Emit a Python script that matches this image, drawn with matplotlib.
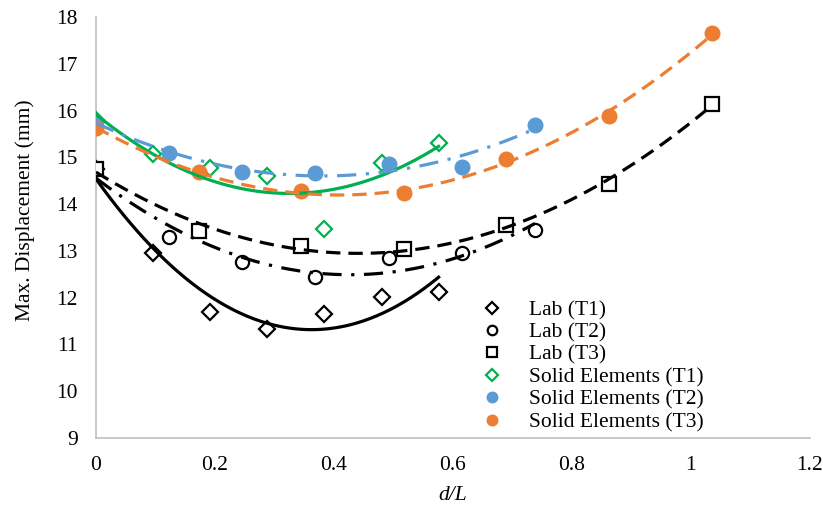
import numpy as np
import matplotlib
matplotlib.use("Agg")
import matplotlib.pyplot as plt

plt.rcParams['font.family'] = ['Liberation Serif', 'DejaVu Serif']

# Data (d/L vs max displacement in mm)
x_t1 = [0.0, 0.096, 0.192, 0.288, 0.384, 0.48, 0.576]
x_t2 = [0.0, 0.123, 0.246, 0.369, 0.492, 0.615, 0.738]
x_t3 = [0.0, 0.1725, 0.345, 0.5175, 0.69, 0.8625, 1.035]

lab_t1 = [14.75, 12.95, 11.69, 11.33, 11.65, 12.01, 12.12]
lab_t2 = [14.75, 13.30, 12.76, 12.45, 12.84, 12.95, 13.45]
lab_t3 = [14.75, 13.43, 13.10, 13.05, 13.55, 14.42, 16.15]
se_t1 = [15.80, 15.07, 14.77, 14.60, 13.47, 14.87, 15.30]
se_t2 = [15.75, 15.10, 14.68, 14.67, 14.85, 14.80, 15.70]
se_t3 = [15.62, 14.69, 14.28, 14.23, 14.97, 15.89, 17.66]

labels = ['Lab (T1)', 'Lab (T2)', 'Lab (T3)',
          'Solid Elements (T1)', 'Solid Elements (T2)', 'Solid Elements (T3)']
xticks = [0, 0.2, 0.4, 0.6, 0.8, 1.0, 1.2]
xticklabels = ['0', '0.2', '0.4', '0.6', '0.8', '1', '1.2']
yticks = [9, 10, 11, 12, 13, 14, 15, 16, 17, 18]

GREEN = '#00B050'
BLUE = '#5B9BD5'
ORANGE = '#ED7D31'
FS = 15.5

fig = plt.figure(figsize=(8.23, 5.08), dpi=100)
ax = fig.add_axes([0.1166, 0.1378, 0.8674, 0.8287])

series = [
    (x_t1, lab_t1, dict(marker='D', ms=8, mfc='white', mec='black', mew=1.6, ls='none')),
    (x_t2, lab_t2, dict(marker='o', ms=9.5, mfc='white', mec='black', mew=1.6, ls='none')),
    (x_t3, lab_t3, dict(marker='s', ms=9.5, mfc='white', mec='black', mew=1.6, ls='none')),
    (x_t1, se_t1, dict(marker='D', ms=8, mfc='white', mec=GREEN, mew=1.6, ls='none')),
    (x_t2, se_t2, dict(marker='o', ms=10.5, mfc=BLUE, mec=BLUE, mew=1, ls='none')),
    (x_t3, se_t3, dict(marker='o', ms=10.5, mfc=ORANGE, mec=ORANGE, mew=1, ls='none')),
]
for (xs, ys, kw), lab in zip(series, labels):
    ax.plot(xs, ys, label=lab, zorder=3, **kw)

# polynomial trendlines (order 2)
dashdot = (0, (6, 3, 1, 3))
dashed = (0, (4.5, 2.5))
trend = [
    (x_t1, lab_t1, 'black', '-', 2),
    (x_t2, lab_t2, 'black', dashdot, 2),
    (x_t3, lab_t3, 'black', dashed, 2),
    (x_t1, se_t1, GREEN, '-', 2),
    (x_t2, se_t2, BLUE, dashdot, 2),
    (x_t3, se_t3, ORANGE, dashed, 2),
]
for xs, ys, c, ls, deg in trend:
    p = np.polyfit(xs, ys, deg)
    xx = np.linspace(min(xs), max(xs), 200)
    ax.plot(xx, np.polyval(p, xx), color=c, ls=ls, lw=2.3, zorder=4)

ax.set_xlim(0, 1.2)
ax.set_ylim(9, 18)
ax.set_xticks(xticks)
ax.set_xticklabels(xticklabels)
ax.set_yticks(yticks)
for s in ['top', 'right']:
    ax.spines[s].set_visible(False)
for s in ['left', 'bottom']:
    ax.spines[s].set_color('#BFBFBF')
    ax.spines[s].set_linewidth(1.2)
ax.tick_params(length=0, pad=13, labelsize=FS)

ax.set_xlabel('d/L', fontsize=FS, style='italic', labelpad=8)
ax.set_ylabel('Max. Displacement (mm)', fontsize=FS)
ax.yaxis.set_label_coords(-0.086, 0.54)

leg = ax.legend(loc='lower left', bbox_to_anchor=(0.528, -0.012), frameon=False,
                fontsize=FS, markerscale=0.72, handlelength=0.8,
                handletextpad=1.32, labelspacing=0.11, borderpad=0)

fig.savefig('out.png', dpi=100)
